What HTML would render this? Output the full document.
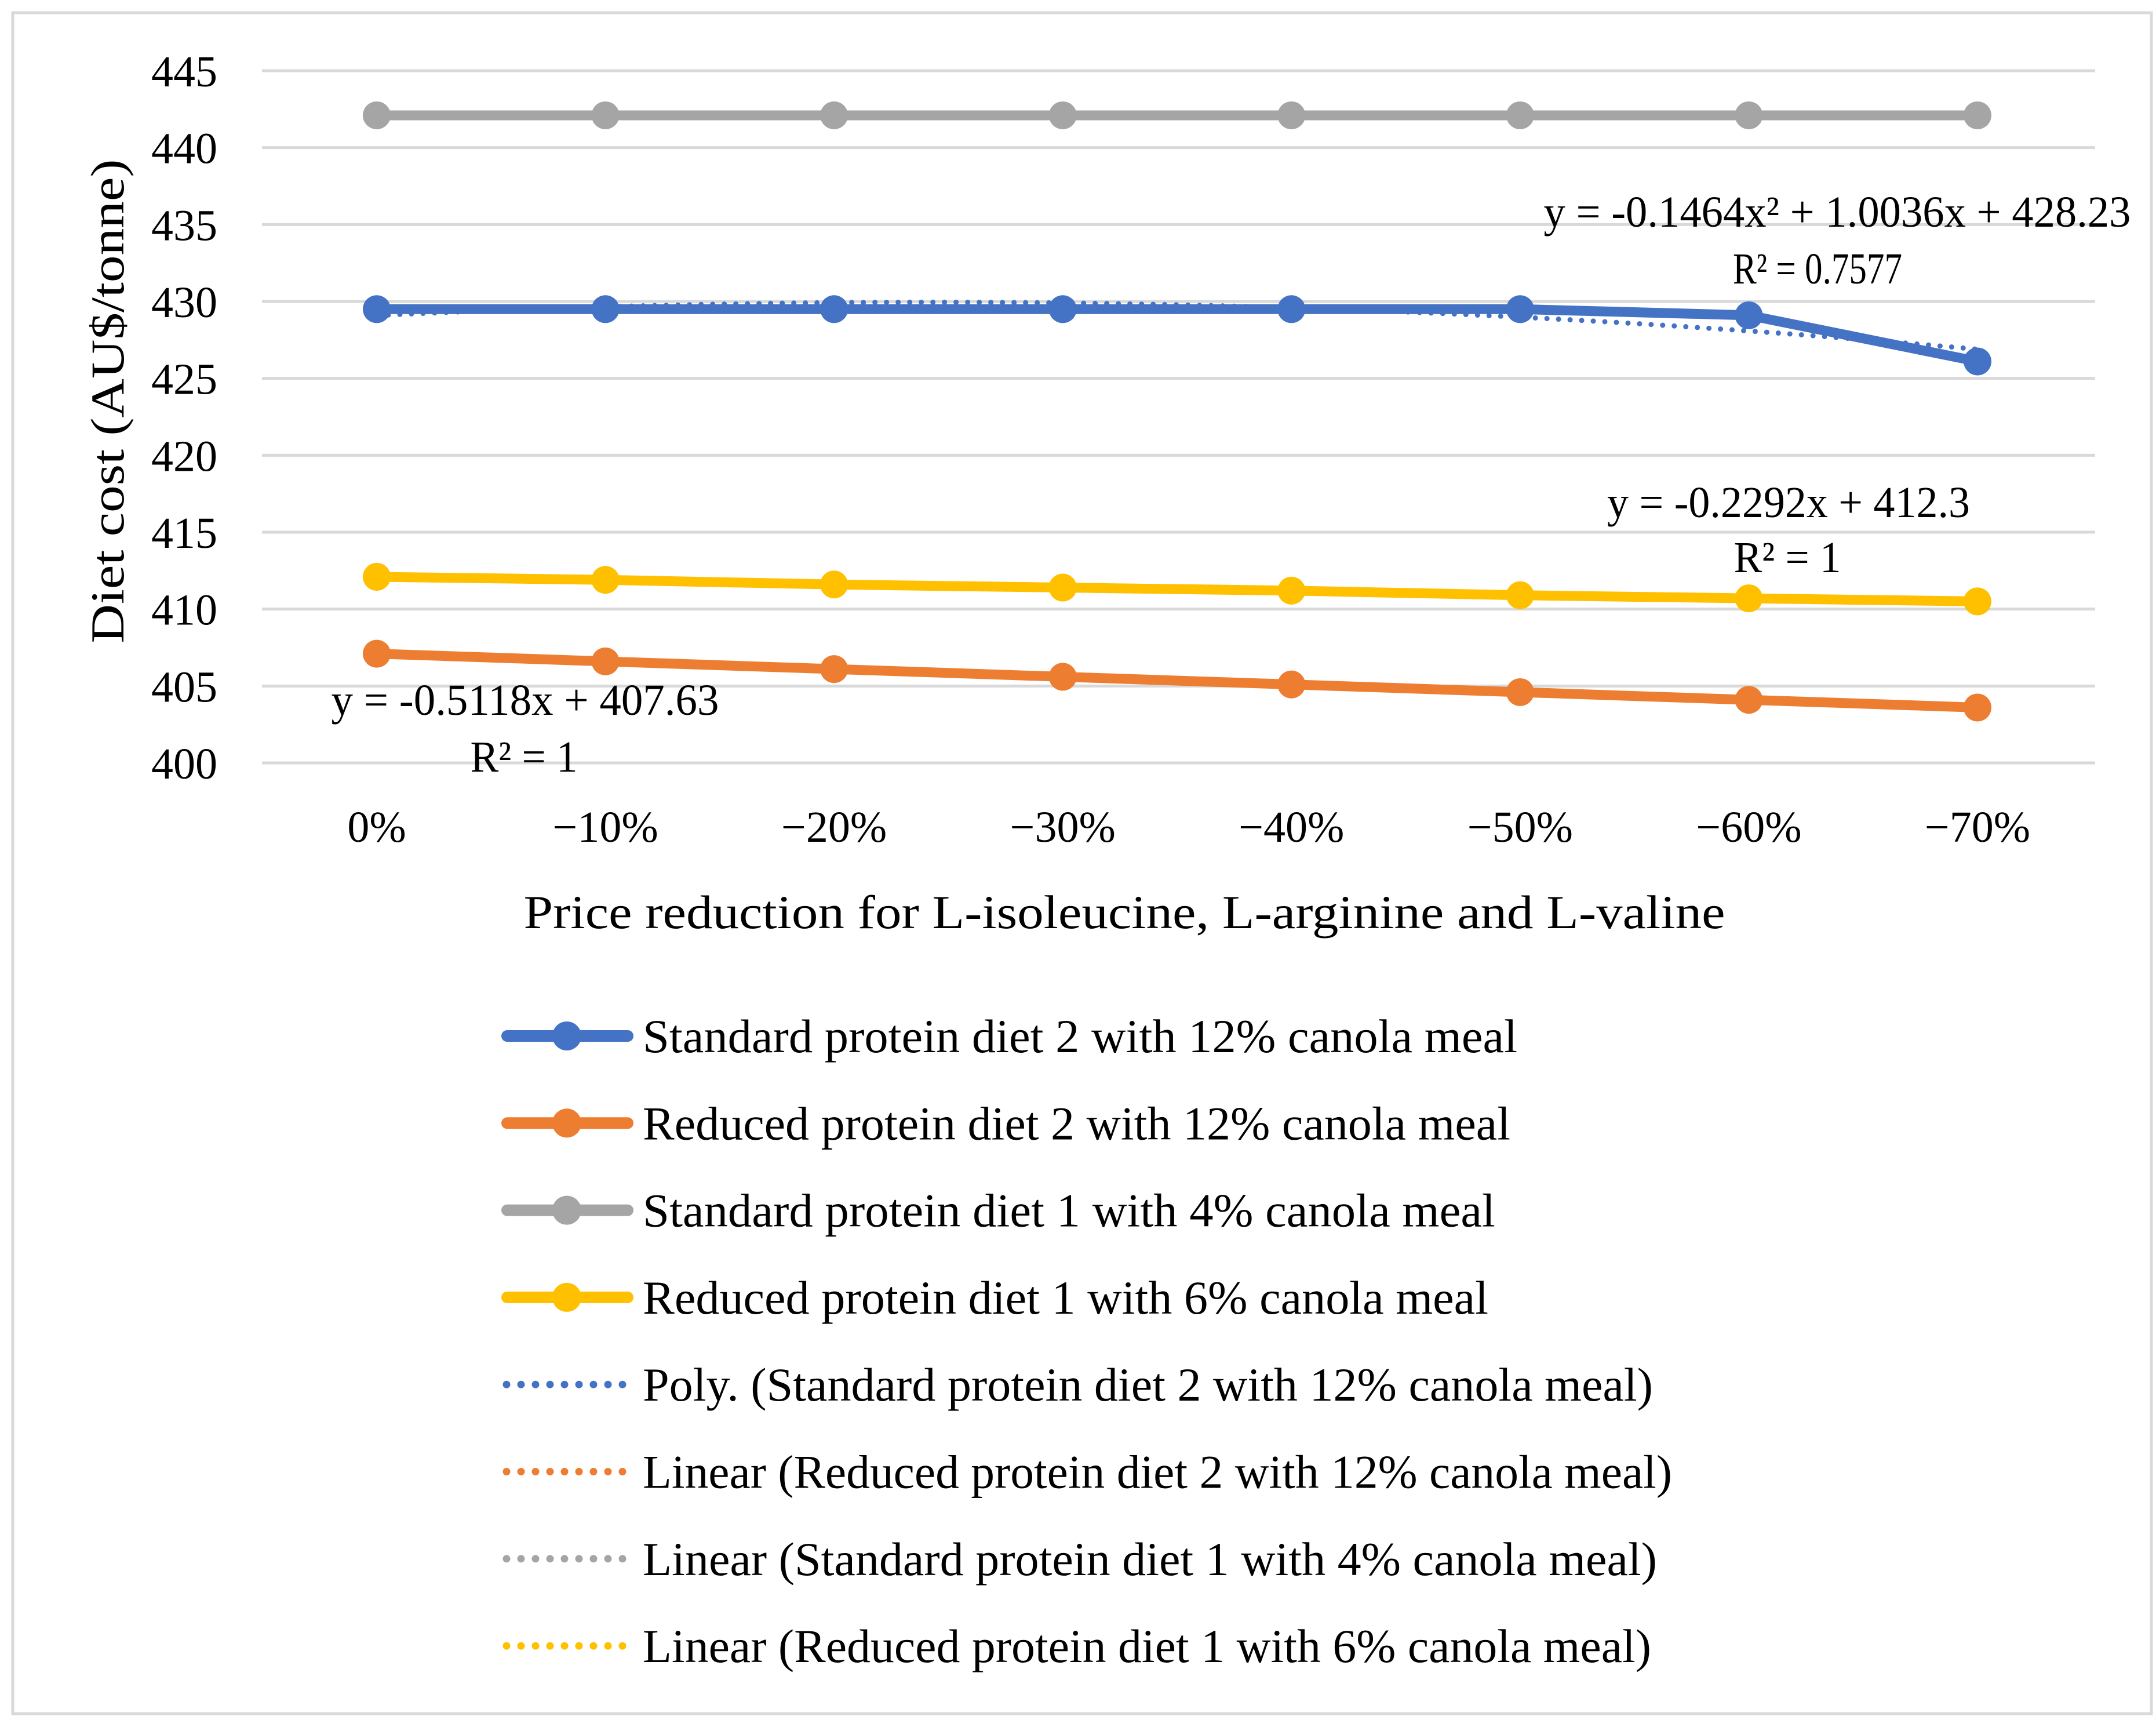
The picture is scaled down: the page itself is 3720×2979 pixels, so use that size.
<!DOCTYPE html>
<html><head><meta charset="utf-8"><style>
html,body{margin:0;padding:0;background:#fff;}
svg{display:block;font-family:"Liberation Serif",serif;}
</style></head><body>
<svg id="chart" width="3720" height="2979" viewBox="0 0 3720 2979" xmlns="http://www.w3.org/2000/svg">
<rect x="22" y="22" width="3690" height="2934" fill="#fff" stroke="#d9d9d9" stroke-width="5"/>
<g id="grid"></g><g id="yticks"></g><g id="xticks"></g><g id="trends"></g><g id="series"></g>
<text x="187" y="692" font-size="82" text-anchor="middle" transform="rotate(-90 187 692)" dy="26" textLength="835" lengthAdjust="spacingAndGlyphs">Diet cost (AU$/tonne)</text>
<text x="1940" y="1601" font-size="82" text-anchor="middle" textLength="2073" lengthAdjust="spacingAndGlyphs">Price reduction for L-isoleucine, L-arginine and L-valine</text>
<text x="3170" y="391" font-size="76" text-anchor="middle" textLength="1013" lengthAdjust="spacingAndGlyphs">y = -0.1464x² + 1.0036x + 428.23</text>
<text x="3136" y="489" font-size="76" text-anchor="middle" textLength="292" lengthAdjust="spacingAndGlyphs">R² = 0.7577</text>
<text x="3086" y="892" font-size="76" text-anchor="middle" textLength="626" lengthAdjust="spacingAndGlyphs">y = -0.2292x + 412.3</text>
<text x="3084" y="987" font-size="76" text-anchor="middle" textLength="185" lengthAdjust="spacingAndGlyphs">R² = 1</text>
<text x="906" y="1233" font-size="76" text-anchor="middle" textLength="669" lengthAdjust="spacingAndGlyphs">y = -0.5118x + 407.63</text>
<text x="904" y="1331" font-size="76" text-anchor="middle" textLength="185" lengthAdjust="spacingAndGlyphs">R² = 1</text>
<g id="legend"></g>
</svg>
<script>
const categories = ["0%","\u221210%","\u221220%","\u221230%","\u221240%","\u221250%","\u221260%","\u221270%"];
const yTicks = [400,405,410,415,420,425,430,435,440,445];
const blueStd2 = [429.5,429.5,429.5,429.5,429.5,429.5,429.1,426.1];
const orangeRed2 = [407.1,406.6,406.1,405.6,405.1,404.6,404.1,403.6];
const grayStd1 = [442.1,442.1,442.1,442.1,442.1,442.1,442.1,442.1];
const yellowRed1 = [412.1,411.9,411.6,411.4,411.2,410.9,410.7,410.5];
const polyCoef = [-0.1464,1.0036,428.23];
const orangeLin = [-0.5118,407.63];
const grayLin = [0,442.1];
const yellowLin = [-0.2292,412.3];
const legendLabels = ["Standard protein diet 2 with 12% canola meal","Reduced protein diet 2 with 12% canola meal","Standard protein diet 1 with 4% canola meal","Reduced protein diet 1 with 6% canola meal","Poly. (Standard protein diet 2 with 12% canola meal)","Linear (Reduced protein diet 2 with 12% canola meal)","Linear (Standard protein diet 1 with 4% canola meal)","Linear (Reduced protein diet 1 with 6% canola meal)"];

const NS="http://www.w3.org/2000/svg";
const X0=650, X7=3412, Y400=1316, Y445=122;
function xs(i){return X0+(X7-X0)*i/7;}
function ys(v){return Y400-(v-400)*(Y400-Y445)/45;}
function mk(tag,attrs,parent){const e=document.createElementNS(NS,tag);for(const k in attrs)e.setAttribute(k,attrs[k]);parent.appendChild(e);return e;}
const grid=document.getElementById('grid'),yt=document.getElementById('yticks'),xt=document.getElementById('xticks');
yTicks.forEach(v=>{
  const l=mk('line',{x1:452,x2:3615,y1:ys(v),y2:ys(v),stroke:'#d9d9d9','stroke-width':5},grid);
  
  
  const t=mk('text',{x:375,y:ys(v)+27,'font-size':76,'text-anchor':'end'},yt);
  t.textContent=v;
  
  
});
categories.forEach((c,i)=>{
  const t=mk('text',{x:xs(i),y:1452,'font-size':76,'text-anchor':'middle'},xt);
  t.textContent=c;
  
  
});
const colors={blue:'#4472c4',orange:'#ed7d31',gray:'#a5a5a5',yellow:'#ffc000'};
const trends=document.getElementById('trends');
function trendLine(fn,color,name){
  let d='';
  for(let k=0;k<=70;k++){const xi=k/10;const v=fn(xi+1);d+=(k?'L':'M')+xs(xi).toFixed(1)+' '+ys(v).toFixed(1);}
  const p=mk('path',{d:d,fill:'none',stroke:color,'stroke-width':9,'stroke-dasharray':'0 20','stroke-linecap':'round'},trends);
  
  
}
const series=document.getElementById('series');
function drawSeries(vals,color,name){
  const g=mk('g',{},series);
  
  
  const pts=vals.map((v,i)=>xs(i)+','+ys(v)).join(' ');
  mk('polyline',{points:pts,fill:'none',stroke:color,'stroke-width':17,'stroke-linejoin':'round','stroke-linecap':'round'},g);
  vals.forEach((v,i)=>{
    const c=mk('circle',{cx:xs(i),cy:ys(v),r:24,fill:color},g);
    
    
  });
}
drawSeries(grayStd1,colors.gray,'series-standard-diet-1');
drawSeries(yellowRed1,colors.yellow,'series-reduced-diet-1');
drawSeries(orangeRed2,colors.orange,'series-reduced-diet-2');
drawSeries(blueStd2,colors.blue,'series-standard-diet-2');
trendLine(x=>polyCoef[0]*x*x+polyCoef[1]*x+polyCoef[2],colors.blue,'poly-trend-standard-diet-2');
trendLine(x=>orangeLin[0]*x+orangeLin[1],colors.orange,'linear-trend-reduced-diet-2');
trendLine(x=>grayLin[0]*x+grayLin[1],colors.gray,'linear-trend-standard-diet-1');
trendLine(x=>yellowLin[0]*x+yellowLin[1],colors.yellow,'linear-trend-reduced-diet-1');
const lg=document.getElementById('legend');
const lcol=[colors.blue,colors.orange,colors.gray,colors.yellow,colors.blue,colors.orange,colors.gray,colors.yellow];
const llen=[1509,1497,1471,1459,1743,1776,1750,1740];
legendLabels.forEach((lab,i)=>{
  const y=1787+i*150.3;
  const g=mk('g',{},lg);
  
  
  if(i<4){
    mk('line',{x1:875,x2:1083,y1:y,y2:y,stroke:lcol[i],'stroke-width':20,'stroke-linecap':'round'},g);
    mk('circle',{cx:978,cy:y,r:25,fill:lcol[i]},g);
  } else {
    mk('line',{x1:874,x2:1080,y1:y,y2:y,stroke:lcol[i],'stroke-width':13,'stroke-dasharray':'0 25','stroke-linecap':'round'},g);
  }
  const t=mk('text',{x:1109,y:y+28,'font-size':82,textLength:llen[i],lengthAdjust:'spacingAndGlyphs'},g);
  t.textContent=lab;
});
</script>
</body></html>
